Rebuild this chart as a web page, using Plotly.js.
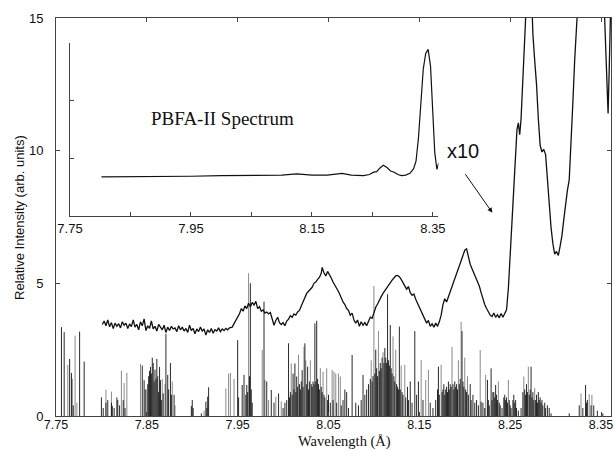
<!DOCTYPE html>
<html>
<head>
<meta charset="utf-8">
<script src="https://cdn.plot.ly/plotly-3.0.1.min.js"></script>
<style>html,body{margin:0;padding:0;background:#fff;}#chart{width:615px;height:450px;}</style>
</head>
<body>
<div id="chart"></div>
<script>
// ---- main measured spectrum (x10) ----
const specX = [
7.801,7.803,7.805,7.807,7.809,7.811,7.813,7.815,7.817,7.819,7.821,7.823,7.825,7.827,7.829,7.831,7.833,7.835,7.837,7.839,
7.841,7.843,7.845,7.847,7.849,7.851,7.853,7.855,7.857,7.859,7.861,7.863,7.865,7.867,7.869,7.871,7.873,7.875,7.877,7.879,
7.881,7.883,7.885,7.887,7.889,7.891,7.893,7.895,7.897,7.899,7.901,7.903,7.905,7.907,7.909,7.911,7.913,7.915,7.917,7.919,
7.921,7.923,7.925,7.927,7.929,7.931,7.933,7.935,7.937,7.939,7.941,
7.944,7.946,7.948,7.950,7.952,7.954,7.956,7.958,7.960,7.962,7.964,7.966,7.968,7.970,7.972,7.974,7.976,7.978,7.980,7.982,
7.984,7.986,7.988,7.990,7.992,7.994,7.996,7.998,8.000,8.002,8.004,8.006,8.008,8.010,8.012,8.014,8.016,8.018,8.020,8.022,
8.024,8.026,8.028,8.030,8.032,8.034,8.036,8.038,8.040,8.042,8.043,8.045,8.047,8.049,8.051,8.053,8.055,8.058,8.060,8.062,
8.064,8.066,8.068,8.070,8.072,8.074,8.076,8.078,8.080,8.082,8.084,8.086,8.088,8.090,8.092,8.094,8.096,8.098,8.100,8.102,
8.104,8.106,8.108,8.110,8.112,8.114,8.116,8.118,8.120,8.122,8.124,8.126,8.128,8.130,8.132,8.134,8.136,8.138,8.140,8.142,
8.144,8.146,8.148,8.150,8.152,8.154,8.156,8.158,8.160,8.162,8.164,8.166,8.168,8.170,8.172,8.174,8.176,8.178,8.180,8.182,
8.184,8.186,8.188,8.190,8.192,8.194,8.196,8.198,8.200,8.202,8.204,8.206,8.208,8.210,8.212,8.214,8.216,8.218,8.220,8.222,
8.224,8.226,8.228,8.230,8.232,8.234,8.236,8.238,8.240,8.242,8.244,8.246,8.248,8.250,8.252,8.254,8.256,8.2575,8.259,8.2605,
8.262,8.264,8.266,8.268,8.271,8.273,8.275,8.277,8.279,8.281,8.283,8.285,8.287,8.289,8.291,8.293,8.295,8.297,8.299,8.301,
8.303,8.305,8.307,8.309,8.311,8.313,8.315,8.317,8.319,8.321,8.323,8.326,8.335,8.345,8.352,8.354,8.3565,8.3578,8.359,8.361
];
const specY = [
3.45,3.58,3.40,3.62,3.36,3.52,3.30,3.50,3.38,3.48,3.32,3.55,3.42,3.50,3.30,3.47,3.37,3.62,3.35,3.45,
3.25,3.55,3.40,3.66,3.22,3.40,3.30,3.58,3.28,3.38,3.20,3.45,3.35,3.25,3.42,3.15,3.35,3.22,3.38,3.28,
3.32,3.18,3.40,3.25,3.35,3.20,3.30,3.15,3.42,3.22,3.30,3.10,3.28,3.18,3.35,3.20,3.28,3.05,3.25,3.15,
3.30,3.12,3.25,3.20,3.32,3.18,3.28,3.22,3.30,3.25,3.32,
3.35,3.48,3.60,3.72,3.85,4.05,3.95,4.15,4.05,4.25,4.12,4.28,4.18,4.32,4.05,4.12,3.95,4.00,3.88,3.92,
3.85,3.90,3.62,3.42,3.60,3.72,3.52,3.45,3.52,3.40,3.58,3.65,3.78,3.72,3.85,3.80,3.92,3.98,4.15,4.32,
4.45,4.62,4.70,4.78,4.85,5.00,5.05,5.15,5.22,5.38,5.60,5.40,5.28,5.45,5.35,5.20,5.05,4.90,4.75,4.62,
4.45,4.30,4.20,4.05,3.98,3.80,3.88,3.62,3.50,3.62,3.38,3.55,3.42,3.52,3.40,3.60,3.72,3.68,3.92,4.10,
4.22,4.38,4.50,4.62,4.72,4.82,4.95,5.05,5.12,5.20,5.28,5.30,5.25,5.15,5.02,4.90,4.78,4.88,4.65,4.55,
4.60,4.40,4.25,4.10,3.95,3.85,3.70,3.50,3.60,3.38,3.48,3.35,3.50,3.38,3.55,3.80,4.20,4.42,4.30,4.52,
4.72,4.88,5.08,5.25,5.45,5.65,5.85,6.05,6.25,6.30,6.00,5.72,5.55,5.40,5.25,5.05,4.90,4.65,4.40,4.20,
4.05,3.90,3.80,3.75,3.88,3.72,3.82,3.70,3.86,3.72,3.85,4.00,4.80,6.00,7.30,8.40,9.40,10.80,11.05,10.60,
11.20,12.80,14.40,16.5,18.0,16.5,14.4,13.4,12.5,11.2,10.2,9.95,10.05,9.85,8.90,7.90,7.10,6.50,6.10,6.20,
6.05,6.40,6.80,7.40,8.00,8.50,8.90,10.2,11.8,13.4,15.0,18.0,22.0,21.0,17.0,15.0,12.5,11.4,13.0,16.0
];

// ---- inset: PBFA-II spectrum (unscaled) ----
const insetX = [7.802,7.85,7.90,7.95,8.00,8.05,8.10,8.125,8.15,8.175,8.20,8.215,8.235,8.245,8.252,8.257,8.262,8.268,8.274,8.280,
8.286,8.292,8.298,8.305,8.312,8.318,8.322,8.326,8.330,8.334,8.338,8.342,8.346,8.350,8.353,8.3565,8.3595];
const insetY = [0.68,0.68,0.685,0.69,0.70,0.70,0.71,0.73,0.71,0.71,0.74,0.71,0.70,0.72,0.76,0.77,0.83,0.88,0.84,0.78,
0.76,0.72,0.70,0.71,0.74,0.82,0.95,1.35,2.00,2.55,2.82,2.89,2.60,1.70,1.10,0.81,0.92];

// ---- calculated line spectrum (sticks), dark ----
const darkX = [
7.756,7.759,7.765,7.767,7.769,7.776,7.781,
7.800,7.802,7.805,7.807,7.811,7.812,7.814,7.817,7.818,7.820,7.824,7.826,
7.845,7.847,7.849,7.851,7.852,7.853,7.854,7.855,7.856,7.857,7.858,7.859,7.860,7.861,7.862,7.863,7.864,7.865,7.866,7.868,7.871,7.873,7.874,7.876,7.877,7.880,
7.899,7.900,7.901,7.910,7.915,7.916,7.917,7.918,
7.950,7.951,7.955,7.957,7.959,7.960,7.961,7.963,7.964,7.965,7.966,7.979,7.982,7.987,7.990,7.995,
8.000,8.002,8.004,8.006,8.007,8.008,8.010,8.011,8.012,8.013,8.014,8.015,8.016,8.018,8.019,8.020,8.021,8.022,8.024,8.026,8.027,8.028,8.029,8.031,8.032,8.033,8.034,8.035,8.036,8.037,8.038,8.039,8.040,8.042,8.043,8.045,8.046,8.049,8.050,8.052,8.055,8.059,8.064,8.066,8.068,8.070,8.072,
8.076,8.080,8.083,8.086,8.088,8.090,8.092,8.094,8.096,8.098,8.099,8.101,8.102,8.103,8.104,8.106,8.107,8.108,8.109,8.111,8.112,8.113,8.114,8.115,8.116,8.117,8.118,8.119,8.120,8.122,8.123,8.125,8.126,8.127,8.128,8.129,8.131,8.132,8.135,8.137,8.138,8.140,8.142,8.145,8.147,8.149,8.154,8.162,8.165,
8.168,8.170,8.171,8.172,8.175,8.176,8.177,8.178,8.179,8.180,8.181,8.182,8.183,8.184,8.185,8.187,8.188,8.189,8.190,8.191,8.192,8.194,8.195,8.197,8.198,8.199,8.201,8.202,8.204,8.206,8.207,8.209,8.211,8.213,8.215,8.218,
8.220,8.222,8.225,8.226,8.227,8.229,8.230,8.231,8.232,8.233,8.234,8.235,8.236,8.238,8.239,8.241,8.243,8.244,8.245,8.246,8.247,8.249,8.250,8.251,8.253,8.254,8.255,8.256,8.257,8.259,8.262,8.264,8.266,8.267,8.268,8.269,8.271,8.272,8.273,8.274,8.275,8.276,8.278,8.279,8.280,8.281,8.282,8.283,8.284,8.285,8.286,8.288,8.289,8.291,8.293,8.295,
8.315,8.326,8.330,8.333,8.334,8.335,8.339,8.342,8.346,8.352
];
const darkY = [
3.35,3.16,2.15,1.62,0.40,3.18,2.05,
0.70,0.30,0.50,0.60,0.50,0.38,0.30,0.70,0.60,0.40,0.60,0.30,
1.90,1.35,1.00,1.20,1.50,1.70,1.85,1.60,2.20,2.00,1.30,1.75,1.40,2.15,1.50,0.90,1.85,1.35,0.60,0.85,3.10,1.55,1.00,2.00,0.80,0.80,
0.38,0.60,0.30,0.10,0.54,0.30,0.73,1.08,
2.86,0.70,1.17,1.55,0.80,1.17,0.90,1.50,5.00,1.00,0.50,4.31,1.30,0.98,0.50,0.85,
0.30,0.50,0.60,2.74,0.70,0.90,0.80,1.60,1.00,1.98,0.90,1.49,1.10,1.20,1.00,1.30,1.73,1.10,2.74,1.20,1.86,1.00,1.30,1.20,1.10,1.30,1.20,3.49,1.30,3.59,1.40,1.20,1.00,1.10,0.90,0.80,0.70,0.60,0.80,0.50,0.60,0.50,0.40,0.60,1.00,0.90,0.30,
2.30,0.50,0.40,0.60,1.55,0.80,1.00,1.20,1.40,1.30,1.50,1.60,2.50,1.80,1.50,1.70,2.00,1.80,2.20,2.00,2.56,2.20,2.00,4.59,2.10,1.90,3.43,1.80,1.60,1.50,1.30,1.20,1.10,1.00,3.37,1.00,0.90,0.80,0.70,1.10,0.60,1.30,0.50,3.20,0.80,1.30,0.60,0.50,0.30,
0.60,1.00,1.86,0.80,0.90,1.00,1.20,0.80,1.00,1.10,0.90,1.30,1.00,1.20,1.10,1.20,1.00,1.30,1.10,1.20,1.00,1.20,1.40,3.20,1.30,1.10,1.00,0.90,0.80,1.20,0.60,0.80,0.50,0.60,0.40,0.54,
0.50,0.30,1.36,0.60,0.40,1.80,0.60,0.90,0.90,0.70,1.17,0.80,0.60,0.50,0.40,0.30,0.70,0.80,0.60,0.70,0.50,0.60,0.40,0.30,0.60,0.80,0.50,0.60,0.30,0.20,0.30,0.90,1.00,0.80,1.20,0.90,0.80,1.00,1.86,0.70,0.90,0.60,0.60,0.80,0.50,0.90,0.60,0.70,0.50,0.60,0.40,0.50,0.30,0.40,0.30,0.10,
0.10,0.40,0.30,1.17,0.50,0.60,0.40,0.40,0.20,0.10
];

// ---- calculated line spectrum (sticks), light ----
const lightX = [7.763,7.768,7.771,7.773,7.805,7.811,7.822,7.825,7.828,7.843,7.848,7.867,7.870,7.878,7.881,7.913,
7.937,7.940,7.942,7.946,7.962,7.977,7.980,7.984,7.992,7.998,8.009,8.017,8.023,8.025,8.030,8.041,8.044,8.048,8.054,8.056,
8.058,8.061,8.063,8.097,8.100,8.105,8.110,8.121,8.124,8.130,8.134,8.152,8.157,8.160,8.174,8.186,8.193,8.196,8.200,8.203,
8.217,8.223,8.237,8.248,8.265,8.270,8.277,8.328,8.337,8.340];
const lightY = [1.92,1.40,3.03,0.50,1.00,0.92,1.71,1.24,1.63,1.96,1.00,1.40,1.20,1.30,0.40,0.20,
1.04,1.60,1.63,1.40,5.38,2.49,1.36,0.60,0.72,0.55,1.98,2.30,2.61,2.10,2.10,1.80,1.67,1.80,1.73,1.67,
1.60,1.60,1.49,2.10,4.90,3.20,2.40,3.00,2.50,1.90,1.93,2.11,1.36,1.74,1.93,2.61,2.10,3.55,2.20,1.50,
2.49,1.55,1.30,1.36,1.49,1.86,1.05,0.85,0.82,0.80];

// ---- ticks ----
const mainTickVals = [7.75,7.85,7.95,8.05,8.15,8.25,8.35];
const mainTickText = ['7.75','7.85','7.95','8.05','8.15','8.25','8.35'];
const yTickVals = [0,5,10,15];
const insetTickVals = [7.75,7.85,7.95,8.05,8.15,8.25,8.35];
const insetTickText = ['7.75','','7.95','','8.15','','8.35'];
const insetYTicks = [0,1,2,3];

function sticks(xs, hs) {
  const X = [], Y = [];
  for (let i = 0; i < xs.length; i++) { X.push(xs[i], xs[i], null); Y.push(0, hs[i], null); }
  return {X, Y};
}
const L = sticks(lightX, lightY), D = sticks(darkX, darkY);

const sans = 'Liberation Sans, Arial, Helvetica, sans-serif';
const serif = 'Liberation Serif, Times New Roman, serif';

const traces = [
  {x: L.X, y: L.Y, type: 'scatter', mode: 'lines', line: {color: '#8a8a8a', width: 1}, hoverinfo: 'skip', showlegend: false},
  {x: D.X, y: D.Y, type: 'scatter', mode: 'lines', line: {color: '#111', width: 0.9}, hoverinfo: 'skip', showlegend: false},
  {x: specX, y: specY, type: 'scatter', mode: 'lines', line: {color: '#111', width: 1.3}, showlegend: false},
  {x: insetX, y: insetY, xaxis: 'x2', yaxis: 'y2', type: 'scatter', mode: 'lines', line: {color: '#111', width: 1.2}, showlegend: false}
];

const axisCommon = {showgrid: false, zeroline: false, showline: true, linecolor: '#444', linewidth: 1,
  ticks: 'inside', ticklen: 4, tickcolor: '#444', tickfont: {family: sans, size: 13, color: '#111'}};

const layout = {
  width: 615, height: 450,
  margin: {l: 56, r: 4, t: 18, b: 34},
  paper_bgcolor: '#fff', plot_bgcolor: '#fff',
  showlegend: false,
  xaxis: Object.assign({}, axisCommon, {range: [7.75, 8.361], tickmode: 'array', tickvals: mainTickVals, ticktext: mainTickText, mirror: 'ticks', anchor: 'y', ticklabelstandoff: -3, tickfont: {family: sans, size: 12.5, color: '#111'}}),
  yaxis: Object.assign({}, axisCommon, {range: [0, 15], tickmode: 'array', tickvals: yTickVals, mirror: 'ticks', anchor: 'x', ticklabelstandoff: 9}),
  xaxis2: Object.assign({}, axisCommon, {domain: [0.0252, 0.689], range: [7.75, 8.359], anchor: 'y2', tickmode: 'array', tickvals: insetTickVals, ticktext: insetTickText}),
  yaxis2: Object.assign({}, axisCommon, {domain: [0.5025, 0.937], range: [0, 3], anchor: 'x2', tickmode: 'array', tickvals: insetYTicks, showticklabels: false}),
  annotations: [
    {text: 'Relative Intensity (arb. units)', xref: 'paper', yref: 'paper', x: -0.0667, y: 0.5, textangle: -90, showarrow: false, xanchor: 'center', yanchor: 'middle', font: {family: sans, size: 13, color: '#111'}},
    {text: 'Wavelength (Å)', xref: 'paper', yref: 'paper', x: 0.519, y: -0.0641, showarrow: false, xanchor: 'center', yanchor: 'middle', font: {family: serif, size: 14.5, color: '#111'}},
    {text: 'PBFA-II Spectrum', xref: 'x2', yref: 'y2', x: 8.0023, y: 1.70, showarrow: false, xanchor: 'center', yanchor: 'middle', font: {family: serif, size: 19, color: '#111'}},
    {text: 'x10', xref: 'x', yref: 'y', x: 8.1977, y: 9.99, showarrow: false, xanchor: 'center', yanchor: 'middle', font: {family: sans, size: 20, color: '#111'}},
    {text: '', xref: 'x', yref: 'y', x: 8.2304, y: 7.66, showarrow: true, ax: -28, ay: -40, arrowhead: 2, arrowsize: 1, arrowwidth: 1, arrowcolor: '#111'}
  ]
};

Plotly.newPlot('chart', traces, layout, {staticPlot: true, displayModeBar: false});
</script>
</body>
</html>
